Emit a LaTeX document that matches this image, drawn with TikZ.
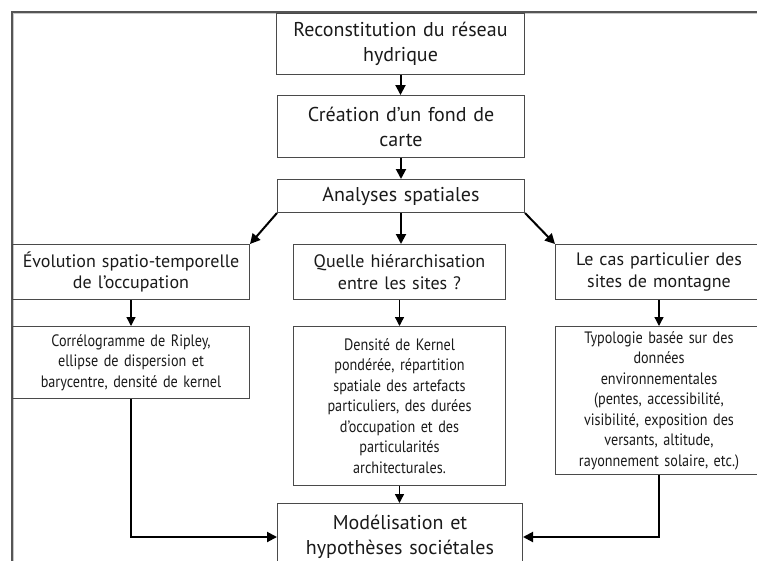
\documentclass[tikz,border=0pt]{standalone}
\usepackage{fontspec}
\setmainfont[WordSpace=0.6]{PT Sans}
\newfontfamily\condfont[FakeStretch=0.86,WordSpace=0.55]{PT Sans}
\usetikzlibrary{arrows.meta}
\definecolor{framedark}{HTML}{555555}
\definecolor{framelight}{HTML}{C8C8C8}
\definecolor{boxgray}{HTML}{4A4A4A}
\definecolor{txt}{HTML}{1A1A1A}
\begin{document}
\begin{tikzpicture}[x=1pt,y=1pt,
  box/.style={draw=boxgray, line width=1pt, anchor=north west, inner sep=0pt, align=center, text=txt},
  big/.style={font=\fontsize{20}{25}\selectfont},
  mid/.style={font=\fontsize{18}{21.5}\selectfont},
  small/.style={font=\condfont\fontsize{16.5}{20.5}\selectfont},
  bigarrow/.style={-{Triangle[length=10pt,width=10pt]}, line width=2pt},
  thinarrow/.style={-{Triangle[length=9pt,width=9pt]}, line width=1.3pt}]
\useasboundingbox (0,0) rectangle (757,-560);
% frame
\draw[line width=1.3pt, framelight] (13.4,-561) -- (13.4,-13.4) -- (758,-13.4);
\draw[line width=1.6pt, framedark] (11.9,-561) -- (11.9,-11.9) -- (758,-11.9);
% boxes
\node[box,big,text width=248pt,minimum height=61pt] (b1) at (276,-13) {Reconstitution du réseau\\hydrique};
\node[box,big,text width=247pt,minimum height=62pt] (b2) at (277,-95) {Création d’un fond de\\carte};
\node[box,big,text width=247pt,minimum height=33pt] (b3) at (277,-179) {Analyses spatiales};
\node[box,mid,text width=237pt,minimum height=55pt] (b4) at (12,-244) {Évolution spatio-temporelle\\de l’occupation};
\node[box,mid,text width=212pt,minimum height=55pt] (b5) at (293,-244) {Quelle hiérarchisation\\entre les sites~?};
\node[box,mid,text width=207pt,minimum height=55pt] (b6) at (555,-244) {Le cas particulier des\\sites de montagne};
\node[box,small,text width=237pt,minimum height=72pt] (b7) at (12,-326) {Corrélogramme de Ripley,\\ellipse de dispersion et\\barycentre, densité de kernel};
\node[box,small,text width=212pt,minimum height=159pt] (b8) at (293,-326) {Densité de Kernel\\pondérée, répartition\\spatiale des artefacts\\particuliers, des durées\\d’occupation et des\\particularités\\architecturales.};
\node[box,small,text width=207pt,minimum height=148pt] (b9) at (555,-326) {Typologie basée sur des\\données\\environnementales\\(pentes, accessibilité,\\visibilité, exposition des\\versants, altitude,\\rayonnement solaire, etc.)};
\node[box,big,text width=245pt,minimum height=67pt] (b10) at (277,-503) {Modélisation et\\hypothèses sociétales};
% arrows
\draw[bigarrow] (b1.south) -- (b1.south |- b2.north);
\draw[bigarrow] (b2.south) -- (b2.south |- b3.north);
\draw[bigarrow] (b3.south) -- (b3.south |- b5.north);
\draw[bigarrow] (b3.south west) -- (b4.north east);
\draw[bigarrow] (b3.south east) -- (b6.north west);
\draw[thinarrow] (b4.south) -- (b7.north);
\draw[thinarrow] (b5.south) -- (b8.north);
\draw[thinarrow] (b6.south) -- (b9.north);
\draw[thinarrow] (b8.south) -- (b8.south |- b10.north);
\draw[bigarrow] (b7.south) |- (b10.west);
\draw[bigarrow] (b9.south) |- (b10.east);
\end{tikzpicture}
\end{document}
